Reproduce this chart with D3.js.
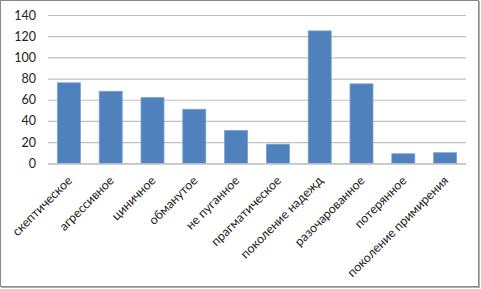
<!DOCTYPE html>
<html><head><meta charset="utf-8">
<script src="https://cdn.jsdelivr.net/npm/d3@7"></script>
<style>body{margin:0;background:#fff}svg{display:block}</style>
</head><body>
<svg id="c" width="481" height="289"></svg>
<script>
const categories = ["скептическое","агрессивное","циничное","обманутое","не пуганное","прагматическое","поколение надежд","разочарованное","потерянное","поколение примирения"];
const values = [76, 68, 62, 51, 31, 18, 125, 75, 9, 10];
const yTicks = [0, 20, 40, 60, 80, 100, 120, 140];

(function(){
const svg = d3.select("#c");
const mL = 48, mR = 466, mT = 15, mB = 163.3;
const font = "Lato, 'Open Sans', sans-serif";

svg.append("rect").attr("x",0.5).attr("y",0.5).attr("width",478).attr("height",286)
  .attr("fill","#fff").attr("stroke","#8a8a8a").attr("stroke-width",1);
svg.append("line").attr("x1",479.5).attr("x2",479.5).attr("y1",1).attr("y2",288).attr("stroke","#b0b0b0").attr("stroke-width",1);
svg.append("line").attr("x1",1).attr("x2",480).attr("y1",287.5).attr("y2",287.5).attr("stroke","#b0b0b0").attr("stroke-width",1);

const x = d3.scaleBand().domain(categories).range([mL, mR]).paddingInner(0.45).paddingOuter(0.225);
const y = d3.scaleLinear().domain([0, 140]).range([mB, mT]);

const yAxis = d3.axisLeft(y).tickValues(yTicks).tickSize(-(mR-mL)).tickPadding(12);
const gy = svg.append("g").attr("transform", `translate(${mL},0)`).call(yAxis);
gy.select(".domain").remove();
gy.selectAll(".tick line").attr("stroke","#c0c0c0").attr("stroke-width",1.2);
gy.selectAll(".tick text").attr("fill","#222").attr("font-family",font).attr("font-size","12.5px");

svg.append("g").selectAll("rect").data(values).join("rect")
  .attr("x",(d,i)=>x(categories[i]))
  .attr("y",d=>y(d))
  .attr("width",x.bandwidth())
  .attr("height",d=>y(0)-y(d))
  .attr("fill","#4f81bd")
  .attr("stroke","#7da0cf").attr("stroke-width",0.8);

const xAxis = d3.axisBottom(x).tickSize(0).tickPadding(0);
const gx = svg.append("g").attr("transform",`translate(0,${mB})`).call(xAxis);
gx.select(".domain").attr("stroke","#c0c0c0").attr("stroke-width",1.2).attr("d",`M${mL},0.5H${mR}`);
gx.selectAll(".tick text")
  .attr("font-family",font).attr("font-size","12.5px").attr("fill","#222")
  .attr("text-anchor","end")
  .attr("dy",null).attr("y",0)
  .attr("transform","translate(4,18) rotate(-45)");
})();
</script>
</body></html>
